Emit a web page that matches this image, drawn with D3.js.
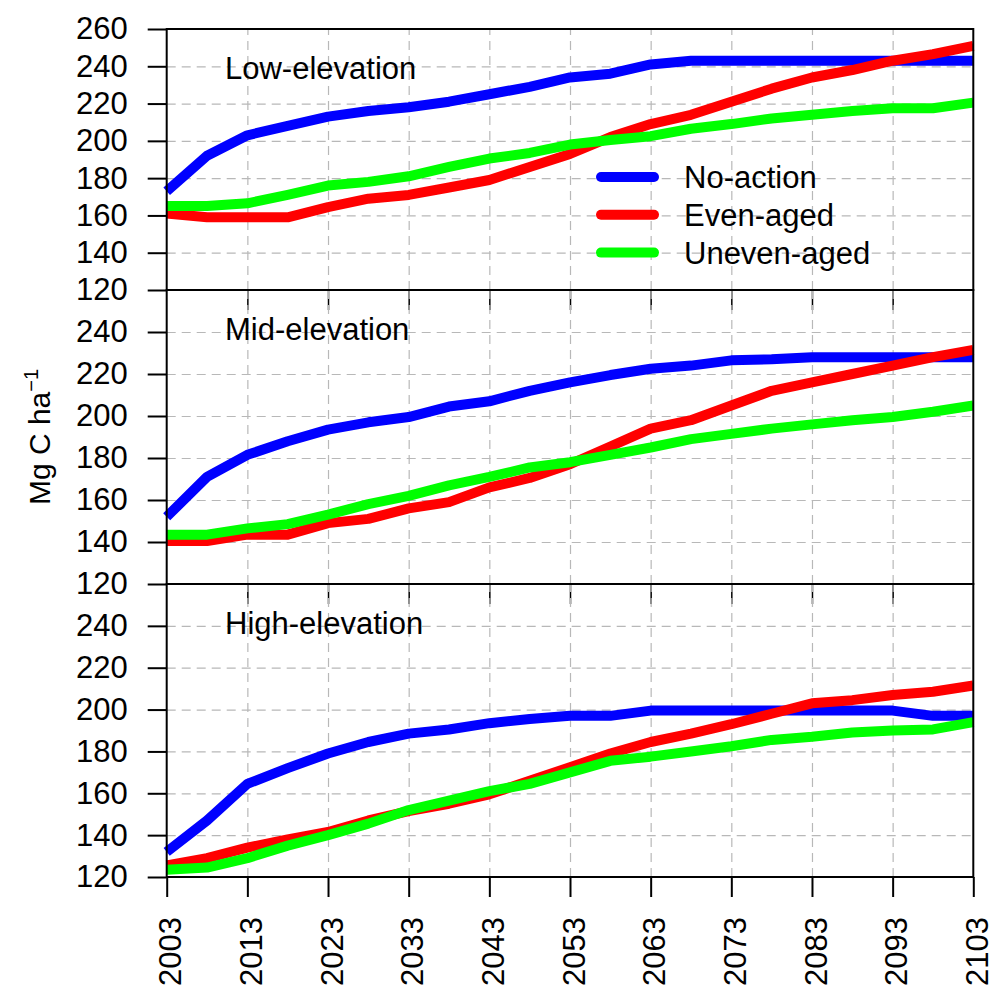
<!DOCTYPE html>
<html>
<head>
<meta charset="utf-8">
<script src="https://cdn.jsdelivr.net/npm/d3@7"></script>
<style>
  body { margin: 0; background: #fff; }
  text { font-family: "Liberation Sans", Arial, sans-serif; fill: #000; }
</style>
</head>
<body>
<script>
// datos (cada 5 años)
var years = [2003, 2008, 2013, 2018, 2023, 2028, 2033, 2038, 2043, 2048, 2053,
             2058, 2063, 2068, 2073, 2078, 2083, 2088, 2093, 2098, 2103];

var lowNoAction = [173, 192, 203, 208, 213, 216, 218, 221, 225, 229, 234,
                   236, 241, 243, 243, 243, 243, 243, 243, 243, 243];
var lowEven     = [161, 159, 159, 159, 164.5, 169, 171, 175, 179, 186, 193,
                   202, 209, 214, 221, 228, 234, 238, 243, 246.5, 251];
var lowUneven   = [165, 165, 166.5, 171, 176, 178, 181, 186, 190.5, 193.5, 198,
                   200.5, 202.5, 206.5, 209, 212, 214, 216, 217.5, 217.5, 220.5];

var midNoAction = [152, 171, 181.5, 188, 193.5, 197, 199.5, 204.5, 207, 212, 216,
                   219.5, 222.5, 224, 226.5, 227, 228, 228, 228, 228, 228];
var midEven     = [140.5, 140.5, 143.5, 143.5, 149, 151, 156, 159, 166, 170.5, 177,
                   185.5, 194, 198, 205, 212, 216, 220, 224, 228, 231.5];
var midUneven   = [143.5, 143.5, 146.5, 148.5, 153, 158, 162, 167, 171, 175.5, 178,
                   181.5, 185, 189, 191.5, 194, 196, 198, 199.5, 202, 205];

var highNoAction = [132, 147, 164.5, 172, 179, 184.5, 188.5, 190.5, 193.5, 195.5, 197,
                    197, 199.5, 199.5, 199.5, 199.5, 199.5, 199.5, 199.5, 197, 197];
var highEven     = [125.5, 129, 134, 138, 141.5, 147, 151.5, 155, 159.5, 166, 172.5,
                    179, 184.5, 188.5, 193, 198, 203, 204.5, 207, 208.5, 211.5];
var highUneven   = [123.5, 124.5, 129, 135, 140, 145.5, 152, 156.5, 161, 164.5, 170,
                    175.5, 177.5, 180, 182.5, 185.5, 187, 189, 190, 190.5, 194];

var panelNames = ["Low-elevation", "Mid-elevation", "High-elevation"];
var seriesNames = ["No-action", "Even-aged", "Uneven-aged"];
var seriesColors = ["#0000ff", "#ff0000", "#00ff00"];

var xTicks = [2003, 2013, 2023, 2033, 2043, 2053, 2063, 2073, 2083, 2093, 2103];
var yTicksTop = [120, 140, 160, 180, 200, 220, 240, 260];
var yTicks = [120, 140, 160, 180, 200, 220, 240];
var yGridTicks = [140, 160, 180, 200, 220, 240];

var panelData = [
  [lowNoAction, lowEven, lowUneven],
  [midNoAction, midEven, midUneven],
  [highNoAction, highEven, highUneven]
];

// posiciones de los paneles (px)
var left = 166.7, right = 973.3;
var panels = [
  {top: 29,  bottom: 290, ticks: yTicksTop},
  {top: 290, bottom: 584, ticks: yTicks},
  {top: 584, bottom: 877, ticks: yTicks}
];

var svg = d3.select("body").append("svg")
  .attr("width", 1008)
  .attr("height", 1000);

svg.append("rect").attr("width", 1008).attr("height", 1000).attr("fill", "#fff");

var x = d3.scaleLinear().domain([2003, 2103]).range([left, right]);

var line = d3.line()
  .x(function(d) { return x(d.year); })
  .y(function(d) { return d.y; });

// ticks negros que quedan debajo de los bordes internos
panels.slice(0, 2).forEach(function(p) {
  svg.append("g")
    .attr("transform", "translate(0," + p.bottom + ")")
    .call(d3.axisBottom(x).tickValues(xTicks.slice(1, -1)).tickSize(20).tickFormat(""))
    .call(function(g) {
      g.select(".domain").remove();
      g.selectAll("line").attr("stroke", "#000").attr("stroke-width", 1.5);
    });
});

panels.forEach(function(p, i) {
  var y = d3.scaleLinear().domain([120, 260]).range([p.bottom, p.top]);
  var g = svg.append("g").attr("class", "panel");

  // rejilla horizontal
  g.append("g")
    .attr("transform", "translate(" + left + ",0)")
    .call(d3.axisLeft(y).tickValues(yGridTicks).tickSize(-(right - left)).tickFormat(""))
    .call(function(a) {
      a.select(".domain").remove();
      a.selectAll("line").attr("stroke", "#b8b8b8").attr("stroke-width", 1.2)
        .attr("stroke-dasharray", "9,6");
    });

  // rejilla vertical
  g.append("g")
    .attr("transform", "translate(0," + p.bottom + ")")
    .call(d3.axisBottom(x).tickValues(xTicks.slice(1, -1)).tickSize(-(p.bottom - p.top)).tickFormat(""))
    .call(function(a) {
      a.select(".domain").remove();
      a.selectAll("line").attr("stroke", "#b8b8b8").attr("stroke-width", 1.2)
        .attr("stroke-dasharray", "9,6");
    });

  // lineas de datos
  panelData[i].forEach(function(vals, k) {
    var pts = years.map(function(yr, j) { return {year: yr, y: y(vals[j])}; });
    g.append("path")
      .attr("d", line(pts))
      .attr("fill", "none")
      .attr("stroke", seriesColors[k])
      .attr("stroke-width", 10)
      .attr("stroke-linejoin", "round");
  });

  // eje y
  g.append("g")
    .attr("transform", "translate(" + left + ",0)")
    .call(d3.axisLeft(y).tickValues(p.ticks).tickSize(19).tickPadding(20))
    .call(function(a) {
      a.select(".domain").remove();
      a.selectAll("line").attr("stroke", "#000").attr("stroke-width", 2);
      a.selectAll("text").attr("font-size", "31px").attr("fill", "#000")
        .attr("font-family", "Liberation Sans, Arial, sans-serif");
    });

  // marco del panel
  g.append("rect")
    .attr("x", left).attr("y", p.top)
    .attr("width", right - left).attr("height", p.bottom - p.top)
    .attr("fill", "none").attr("stroke", "#000").attr("stroke-width", 2);

  // nombre del panel
  g.append("text")
    .attr("x", 225)
    .attr("y", p.top + 50)
    .attr("font-size", "31px")
    .text(panelNames[i]);
});

// eje x inferior
svg.append("g")
  .attr("transform", "translate(0," + panels[2].bottom + ")")
  .call(d3.axisBottom(x).tickValues(xTicks).tickSize(20).tickFormat(""))
  .call(function(a) {
    a.select(".domain").remove();
    a.selectAll("line").attr("stroke", "#000").attr("stroke-width", 2);
  });

svg.append("g").selectAll("text")
  .data(xTicks)
  .enter().append("text")
  .attr("transform", function(d) { return "translate(" + x(d) + ",917) rotate(-90)"; })
  .attr("text-anchor", "end")
  .attr("dy", "0.47em")
  .attr("font-size", "31px")
  .text(function(d) { return d; });

// titulo del eje y
var yt = svg.append("text")
  .attr("transform", "translate(50,437) rotate(-90)")
  .attr("text-anchor", "middle")
  .attr("font-size", "30px");
yt.append("tspan").text("Mg C ha");
yt.append("tspan").attr("dy", -12).attr("font-size", "20px").text("\u22121");

// leyenda
var legend = svg.append("g").attr("class", "legend");
seriesNames.forEach(function(name, k) {
  var ly = 177 + k * 37.8;
  legend.append("line")
    .attr("x1", 601).attr("x2", 654)
    .attr("y1", ly).attr("y2", ly)
    .attr("stroke", seriesColors[k])
    .attr("stroke-width", 10)
    .attr("stroke-linecap", "round");
  legend.append("text")
    .attr("x", 684).attr("y", ly)
    .attr("dy", "0.36em")
    .attr("font-size", "31px")
    .text(name);
});
</script>
</body>
</html>
